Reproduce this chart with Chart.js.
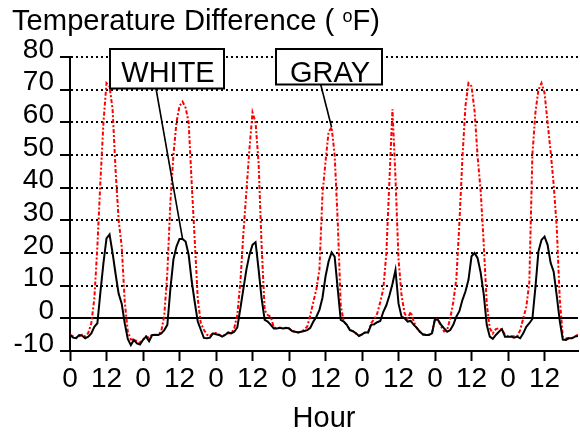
<!DOCTYPE html>
<html>
<head>
<meta charset="utf-8">
<script src="https://cdn.jsdelivr.net/npm/chart.js@4.4.1/dist/chart.umd.min.js"></script>
<style>
  html, body { margin: 0; padding: 0; background: #fff; }
  #wrap { width: 580px; height: 433px; }
</style>
</head>
<body>
<div id="wrap"><canvas id="tempChart" width="580" height="433"></canvas></div>
<script>
// --- data (hourly readings over one week) ---
const hours = Array.from({ length: 168 }, (_, i) => i);

const whiteDiff = [
  -5.1, -5.9, -6.1, -5.1, -5.3, -6.1, -5.6, -4.6, -2.6, -1.5,
  8, 17, 24.5, 25.7, 20, 13.5, 7.5, 4.5, -1.5, -6.3,
  -8.2, -6.6, -7.7, -8, -6.6, -5.6, -7, -5.1, -5.1, -5.1,
  -4.6, -3.6, -2, 9, 18, 22, 24.3, 24.3, 23.5, 19.5,
  11.5, 5, -1, -3.5, -6, -6.1, -5.9, -4.6, -4.9, -5.1,
  -5.6, -5.1, -4.3, -4.6, -4.1, -2.8, 3, 9, 15, 19.5,
  22.5, 23.3, 15, 6, -0.5, -1, -2, -3.1, -3.1, -2.9,
  -3.1, -2.9, -3.1, -3.9, -4.1, -4.3, -4.1, -3.9, -3.6, -2.9,
  -1, 0.5, 2.6, 6.3, 12.8, 17.4, 20.2, 18.9, 9.2, -0.5,
  -1, -2, -3.6, -3.9, -4.6, -5.4, -4.9, -4.3, -4.3, -2,
  -1.8, -1.2, -0.8, 2, 4, 7, 10.5, 14.8, 4.5, 0.5,
  0, -1, -0.8, -2, -2.9, -4.1, -4.9, -5.1, -5.1, -4.6,
  -0.2, -0.5, -2, -3.1, -4.1, -3.6, -2, 0.5, 2.2, 5.6,
  8.2, 11.8, 19, 20, 18.4, 14, 7.5, -2, -5.6, -6.3,
  -5.1, -4.1, -3.3, -5.6, -5.6, -5.6, -5.9, -5.6, -6.1, -4.6,
  -2.6, -1.5, -0.2, 9.5, 20.5, 24, 25, 22.5, 17, 14.3,
  7, -0.8, -6.5, -6.6, -6.1, -6.1, -5.6, -5.4
];

const grayDiff = [
  -5, -5.5, -6, -5.5, -5, -5.5, -4.5, -1.5, 6, 22,
  42, 60, 72, 71, 64, 45, 30, 22, 5, -4,
  -6.5, -6.5, -7, -7.5, -6.5, -5.5, -6, -5, -5, -5,
  -4, 1, 14, 35.5, 50, 60, 65, 66.3, 64.5, 60,
  41.5, 24, 6, -1.5, -3.5, -5, -5.5, -4.5, -4.5, -5,
  -5.5, -5, -4.5, -4.6, -3, 1, 11, 26, 39, 52,
  63, 60, 47.5, 22, 2.5, 1, 0.5, -2.8, -3, -2.9,
  -3, -3, -3, -3.9, -4.1, -4.3, -4.1, -3.5, -2.5, 1,
  5, 9, 15, 38, 48, 57, 58.5, 50, 30, 4,
  -1, -2, -3.5, -4, -4.6, -5.3, -4.9, -4.3, -4.3, -1.5,
  -0.2, 1.5, 5, 9, 20, 42, 64, 43, 18, 7,
  1.5, 0, 2, -1, -3, -4, -5, -5, -5, -4.5,
  0, -0.5, -2.5, -4, -3.5, 0, 5, 12, 29, 49,
  65, 72, 71, 63.5, 49.5, 39, 23, 4.5, -3, -4.6,
  -3.3, -3, -3.5, -5, -5.5, -5.5, -5.5, -5.5, -3.6, 0,
  3.5, 11, 50, 63, 70, 72, 69, 60, 51, 41,
  28, 6, -5.6, -6.1, -6, -6, -5.5, -5
];

const xTicks = [0, 12, 24, 36, 48, 60, 72, 84, 96, 108, 120, 132, 144, 156];
const xTickLabels = ["0", "12", "0", "12", "0", "12", "0", "12", "0", "12", "0", "12", "0", "12"];
const yTicks = [-10, 0, 10, 20, 30, 40, 50, 60, 70, 80];

const seriesNames = ["WHITE", "GRAY"];
const calloutHours = [37, 86]; // where each callout's leader points

// --- fonts / layout ---
const FONT = '"Liberation Sans", Arial, sans-serif';
const callouts = [
  { box: [110, 49, 224, 88.5], from: [156, 88.5] },
  { box: [276, 49, 382, 84.5], from: [320.7, 84.5] }
];

const toPoints = (vals) => vals.map((v, i) => ({ x: hours[i], y: v }));

const decorPlugin = {
  id: "decor",
  beforeDatasetsDraw(chart) {
    // solid zero line
    const { ctx, chartArea, scales } = chart;
    const y0 = Math.round(scales.y.getPixelForValue(0));
    ctx.save();
    ctx.strokeStyle = "#000";
    ctx.lineWidth = 2;
    ctx.beginPath();
    ctx.moveTo(chartArea.left, y0);
    ctx.lineTo(chartArea.right, y0);
    ctx.stroke();
    ctx.restore();
  },
  afterDatasetsDraw(chart) {
    const { ctx, scales } = chart;
    const series = [whiteDiff, grayDiff];
    ctx.save();
    callouts.forEach((c, i) => {
      const h = calloutHours[i];
      const tx = scales.x.getPixelForValue(h);
      const ty = scales.y.getPixelForValue(series[i][h]);
      ctx.strokeStyle = "#000";
      ctx.lineWidth = 1.6;
      ctx.beginPath();
      ctx.moveTo(c.from[0], c.from[1]);
      ctx.lineTo(tx, ty);
      ctx.stroke();

      const [x1, y1, x2, y2] = c.box;
      ctx.fillStyle = "#fff";
      ctx.fillRect(x1, y1, x2 - x1, y2 - y1);
      ctx.lineWidth = 2;
      ctx.strokeRect(x1, y1, x2 - x1, y2 - y1);
      ctx.fillStyle = "#000";
      ctx.font = "29px " + FONT;
      ctx.textAlign = "center";
      ctx.textBaseline = "alphabetic";
      ctx.fillText(seriesNames[i], (x1 + x2) / 2 + 1, 82);
    });
    ctx.restore();
  },
  afterDraw(chart) {
    // title with superscript degree "o"
    const { ctx } = chart;
    ctx.save();
    ctx.fillStyle = "#000";
    ctx.textAlign = "left";
    ctx.textBaseline = "alphabetic";
    let x = 12;
    ctx.font = "29.2px " + FONT;
    const part1 = "Temperature Difference ( ";
    ctx.fillText(part1, x, 30);
    x += ctx.measureText(part1).width;
    ctx.font = "18px " + FONT;
    ctx.fillText("o", x, 22);
    x += ctx.measureText("o").width;
    ctx.font = "29.2px " + FONT;
    ctx.fillText("F)", x, 30);
    ctx.restore();
  }
};

new Chart(document.getElementById("tempChart"), {
  type: "line",
  data: {
    datasets: [
      {
        label: seriesNames[0],
        data: toPoints(whiteDiff),
        borderColor: "#000",
        borderWidth: 2,
        pointRadius: 0,
        tension: 0,
      },
      {
        label: seriesNames[1],
        data: toPoints(grayDiff),
        borderColor: "#ff0000",
        borderWidth: 2,
        borderDash: [4, 2, 2, 2],
        pointRadius: 0,
        tension: 0,
      },
    ],
  },
  options: {
    responsive: false,
    devicePixelRatio: 1,
    animation: false,
    layout: { padding: { left: 0, right: 2, top: 57, bottom: 0 } },
    plugins: {
      legend: { display: false },
      tooltip: { enabled: false },
      title: { display: false },
    },
    scales: {
      x: {
        type: "linear",
        min: 0,
        max: 167,
        afterFit: (s) => { s.height = 82; },
        afterBuildTicks: (s) => { s.ticks = xTicks.map((v) => ({ value: v })); },
        ticks: {
          autoSkip: false,
          maxRotation: 0,
          padding: 1,
          color: "#000",
          font: { family: FONT, size: 28 },
          callback: (v) => xTickLabels[xTicks.indexOf(v)],
        },
        grid: {
          drawOnChartArea: false,
          drawTicks: true,
          tickLength: 10,
          tickWidth: 2,
          tickColor: "#000",
        },
        border: { display: true, color: "#000", width: 2 },
        title: {
          display: true,
          text: "Hour",
          color: "#000",
          font: { family: FONT, size: 29, lineHeight: 1 },
          padding: { top: 0, bottom: 0 },
        },
      },
      y: {
        min: -10,
        max: 80,
        afterFit: (s) => { s.width = 70; },
        afterBuildTicks: (s) => { s.ticks = yTicks.map((v) => ({ value: v })); },
        ticks: {
          autoSkip: false,
          padding: 6,
          labelOffset: -7,
          color: "#000",
          font: { family: FONT, size: 28 },
        },
        grid: {
          color: (c) => (c.tick && (c.tick.value === 0 || c.tick.value === -10) ? "rgba(0,0,0,0)" : "#000"),
          lineWidth: 2,
          drawTicks: true,
          tickLength: 10,
          tickWidth: 2,
          tickColor: "#000",
          tickBorderDash: [],
        },
        border: { display: true, color: "#000", width: 2, dash: [2, 3] },
      },
    },
  },
  plugins: [decorPlugin],
});
</script>
</body>
</html>
